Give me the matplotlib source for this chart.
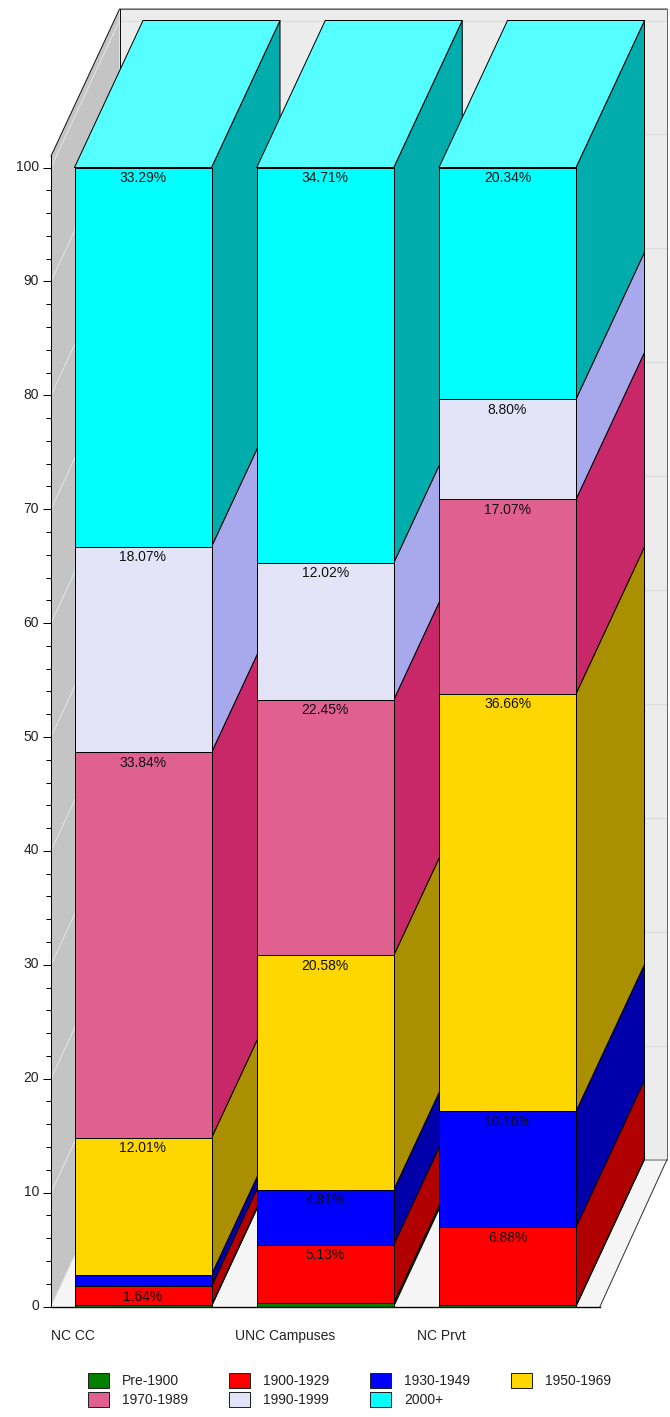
import numpy as np
import matplotlib
matplotlib.use("Agg")
import matplotlib.pyplot as plt
from matplotlib.patches import Patch
from matplotlib.transforms import ScaledTranslation

plt.rcParams['font.family'] = ['Liberation Sans', 'DejaVu Sans']

# === DATA ===
categories = ["NC CC", "UNC Campuses", "NC Prvt"]
periods = ["Pre-1900", "1900-1929", "1930-1949", "1950-1969", "1970-1989", "1990-1999", "2000+"]
pre_1900 = [0.12, 0.30, 0.09]
y1900_1929 = [1.64, 5.13, 6.88]
y1930_1949 = [1.03, 4.81, 10.16]
y1950_1969 = [12.01, 20.58, 36.66]
y1970_1989 = [33.84, 22.45, 17.07]
y1990_1999 = [18.07, 12.02, 8.80]
y2000_plus = [33.29, 34.71, 20.34]
y_major = list(range(0, 101, 10))
y_minor = list(range(0, 101, 2))

# === STYLE ===
front = ["#008000", "#FF0000", "#0000FF", "#FFD700", "#E06090", "#E4E4F8", "#00FFFF"]
side = ["#005800", "#B00000", "#0000AA", "#AA9000", "#C82868", "#A8A8EC", "#00ACAC"]
top_color = "#55FFFF"
PX = 11.39           # pixels per percent
ZERO_PX = 1306.5     # pixel row of value 0
DX = 68.5            # depth, in pixels across
DY = 147 / PX        # depth, in percent units up
BAR_W = 137
BAR_LEFT = [74.5, 256.75, 439]
LABEL_X = [51, 235, 417]
WALL_L, FLOOR_R, WALL_TOP = 51, 600, 101
LW = 0.72

fig = plt.figure(figsize=(6.7, 14.17), dpi=100)
ax = fig.add_axes([0, 0, 1, 1])
ax.set_xlim(0, 670)
ax.set_ylim((ZERO_PX - 1417) / PX, ZERO_PX / PX)
ax.patch.set_visible(False)


def poly(xs, ys, color, edge="black", lw=LW, z=1):
    ax.fill(xs, ys, facecolor=color, edgecolor=edge, linewidth=lw, zorder=z, joinstyle="round")


# walls and floor
bx = WALL_L + DX
poly([bx, 667, 667, bx], [DY, DY, WALL_TOP + DY, WALL_TOP + DY], "#ECECEC", edge="none")
poly([WALL_L, bx, bx, WALL_L], [0, DY, WALL_TOP + DY, WALL_TOP], "#C4C4C4", edge="none")
poly([WALL_L, FLOOR_R, 667, bx], [0, 0, DY, DY], "#F5F5F5", edge="none")
for v in y_major:
    ax.plot([WALL_L, bx], [v, v + DY], color="#E2E2E2", lw=0.8, zorder=1.1)
    ax.plot([bx, 667], [v + DY, v + DY], color="#DCDCDC", lw=0.8, zorder=1.1)
ax.plot([WALL_L, bx, 667], [WALL_TOP, WALL_TOP + DY, WALL_TOP + DY], color="#111111", lw=LW, zorder=1.2)
ax.plot([bx, bx], [DY, WALL_TOP + DY], color="#111111", lw=LW, zorder=1.15)
ax.plot([667, 667], [DY, WALL_TOP + DY], color="#666666", lw=LW, zorder=1.2)
ax.plot([bx, 667], [DY, DY], color="#AAAAAA", lw=1.4, zorder=1.2)
ax.plot([FLOOR_R, 667], [0, DY], color="#333333", lw=LW, zorder=1.2)

# stacked bars, left to right so each one covers its neighbour's side
series = [pre_1900, y1900_1929, y1930_1949, y1950_1969, y1970_1989, y1990_1999, y2000_plus]
for i, left in enumerate(BAR_LEFT):
    right = left + BAR_W
    base = 0.0
    z = 2 + i
    for k, vals in enumerate(series):
        h = vals[i]
        t = base + h
        poly([right, right + DX, right + DX, right], [base, base + DY, t + DY, t], side[k], z=z)
        poly([left, right, right, left], [base, base, t, t], front[k], z=z)
        if h >= 1.5:
            ax.annotate(f"{h:.2f}%", (left + BAR_W / 2, t), xytext=(0, -7.5), textcoords="offset points",
                        ha="center", va="center", fontsize=10, color="#111111", zorder=z + 0.5)
        base = t
    poly([left, right, right + DX, left + DX], [base, base, base + DY, base + DY], top_color, z=z)

# axes
for name in ["top", "right"]:
    ax.spines[name].set_visible(False)
ax.spines["left"].set_position(("data", WALL_L))
ax.spines["left"].set_bounds(0, WALL_TOP)
ax.spines["left"].set_linewidth(LW)
ax.spines["bottom"].set_position(("data", 0))
ax.spines["bottom"].set_bounds(WALL_L, FLOOR_R)
ax.spines["bottom"].set_linewidth(1.0)
for s in ax.spines.values():
    s.set_zorder(10)
ax.set_yticks(y_major)
ax.set_yticks(y_minor, minor=True)
ax.tick_params(axis="y", which="major", length=5.8, width=LW, pad=2.8, labelsize=10, labelcolor="#222222")
ax.tick_params(axis="y", which="minor", length=3.6, width=LW)
lift = ScaledTranslation(0, 2 / 100, fig.dpi_scale_trans)
for lab in ax.get_yticklabels():
    lab.set_transform(lab.get_transform() + lift)
ax.set_xticks(LABEL_X)
ax.set_xticklabels(categories, ha="left", fontsize=10, color="#222222")
ax.tick_params(axis="x", length=0, pad=16)

# legend is filled column by column
order = [0, 4, 1, 5, 2, 6, 3]
handles = [Patch(facecolor=front[k], edgecolor="#222222", linewidth=LW, label=periods[k]) for k in order]
ax.legend(handles=handles, ncols=4, loc="lower left", bbox_to_anchor=(88 / 670, 1 - 1407 / 1417),
          frameon=False, fontsize=10, borderpad=0, borderaxespad=0, handlelength=1.5, handleheight=1.28,
          handletextpad=0.95, columnspacing=2.95, labelspacing=0.3, labelcolor="#222222")

fig.savefig("out.png", dpi=100)
